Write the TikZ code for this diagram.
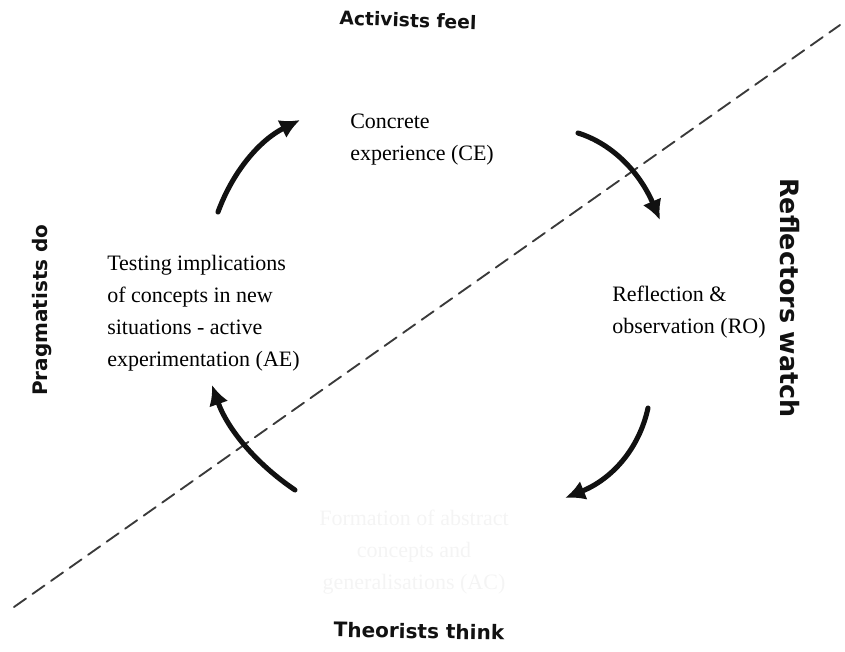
\documentclass[tikz,border=0pt]{standalone}
\usepackage{fontspec}
\setmainfont{Liberation Serif}
\newfontfamily\handfont{DejaVu Sans}
\usetikzlibrary{arrows.meta}
\definecolor{tinta}{HTML}{111111}
\definecolor{linea}{HTML}{3A3A3A}
\definecolor{palido}{HTML}{F4F4F4}

\begin{document}
\begin{tikzpicture}[x=0.75pt,y=-0.75pt,line cap=round,
    flecha/.style={tinta,line width=3.8pt,-{Latex[length=15pt,width=15pt]}},
    etapa/.style={font=\fontsize{16.5}{24}\selectfont,align=left,anchor=west,inner sep=0pt},
    estilo/.style={tinta,inner sep=0pt}]
        \useasboundingbox (0,0) rectangle (845,651);
        % --- diagonal discontinua ---
        \coordinate (D1) at (14,607);
        \coordinate (D2) at (840,25);
        \draw[linea,line width=1.4pt,dash pattern=on 11pt off 6pt] (D1) -- (D2);
        % --- etapas del ciclo ---
        \node[etapa] (CE) at (350,140) {Concrete\\experience (CE)};
        \node[etapa] (RO) at (612,312) {Reflection \&\\observation (RO)};
        \node[etapa] (AE) at (107,313) {Testing implications\\of concepts in new\\situations - active\\experimentation (AE)};
        \node[etapa,anchor=center,align=center,palido] (AC) at (414,552)
              {Formation of abstract\\concepts and\\generalisations (AC)};
        % --- estilos de aprendizaje ---
        \node[estilo,font=\handfont\bfseries\fontsize{14}{14}\selectfont,rotate=-2] (act) at (408,20) {Activists feel};
        \node[estilo,font=\handfont\bfseries\fontsize{19}{19}\selectfont,rotate=-90] (refl) at (790,298) {Reflectors watch};
        \node[estilo,font=\handfont\bfseries\fontsize{15}{15}\selectfont,rotate=-1] (theo) at (419,631) {Theorists think};
        \node[estilo,font=\handfont\bfseries\fontsize{15}{15}\selectfont,rotate=90] (prag) at (42,310) {Pragmatists do};
        % --- flechas del ciclo ---
        \coordinate (a1) at (218,212); \coordinate (a2) at (300,120);
        \coordinate (b1) at (578,133); \coordinate (b2) at (660,220);
        \coordinate (c1) at (648,408); \coordinate (c2) at (565,498);
        \coordinate (d1) at (295,490); \coordinate (d2) at (212,385);
        \draw[flecha] (a1) .. controls (233,171) and (260,140) .. (a2);
        \draw[flecha] (b1) .. controls (613,144) and (640,173) .. (b2);
        \draw[flecha] (c1) .. controls (639,449) and (612,479) .. (c2);
        \draw[flecha] (d1) .. controls (255,463) and (227,428) .. (d2);
\end{tikzpicture}
\end{document}
